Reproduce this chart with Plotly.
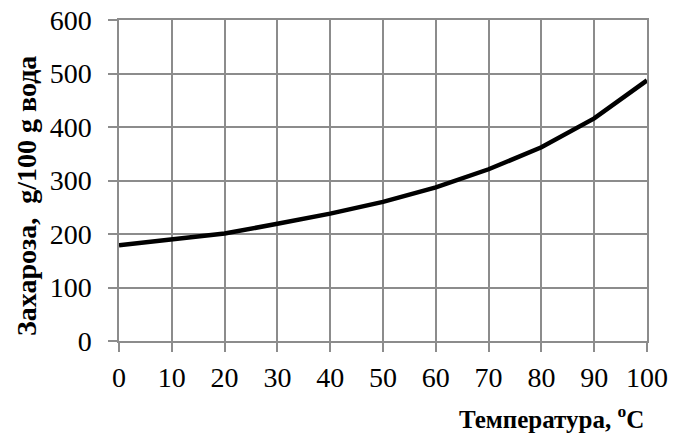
import plotly.graph_objects as go

temperature = [0, 10, 20, 30, 40, 50, 60, 70, 80, 90, 100]
sucrose = [179, 190, 201, 219, 238, 260, 287, 321, 362, 416, 487]
x_ticks = [0, 10, 20, 30, 40, 50, 60, 70, 80, 90, 100]
y_ticks = [0, 100, 200, 300, 400, 500, 600]
x_title = "Температура, <sup>o</sup>C"
y_title = "Захароза,&nbsp; g/100 g вода"

font_family = "Liberation Serif"
grid_color = "#8c8c8c"

L, R, T, B = 119, 647, 20, 341
W, H = 682, 441

fig = go.Figure()
fig.add_trace(go.Scatter(
    x=temperature, y=sucrose, mode="lines",
    line=dict(color="black", width=4.5),
    showlegend=False, hoverinfo="skip",
))

axis_common = dict(
    showgrid=True, gridcolor=grid_color, gridwidth=1.5,
    ticks="outside", ticklen=9, tickcolor=grid_color, tickwidth=1.5,
    showline=True, linecolor=grid_color, linewidth=1.5, mirror=True,
    zeroline=False,
    tickfont=dict(family=font_family, size=28, color="black"),
)

fig.update_layout(
    width=W, height=H,
    margin=dict(l=L, r=W - R, t=T, b=H - B, autoexpand=False),
    paper_bgcolor="white", plot_bgcolor="white",
    font=dict(family=font_family, size=28, color="black"),
    xaxis=dict(range=[0, 100], tickvals=x_ticks,
               ticktext=[str(v) for v in x_ticks],
               ticklabelstandoff=2, **axis_common),
    yaxis=dict(range=[0, 600], tickvals=y_ticks,
               ticktext=[str(v) for v in y_ticks],
               ticklabelstandoff=11, **axis_common),
    annotations=[
        dict(text="<b>" + x_title + "</b>", xref="paper", yref="paper",
             x=(646 - L) / (R - L), y=-(417 - B) / (B - T),
             xanchor="right", yanchor="middle", showarrow=False,
             font=dict(family=font_family, size=25, color="black")),
        dict(text="<b>" + y_title + "</b>", xref="paper", yref="paper",
             x=-(L - 26) / (R - L), y=(B - 196) / (B - T), textangle=-90,
             xanchor="center", yanchor="middle", showarrow=False,
             font=dict(family=font_family, size=28, color="black")),
    ],
)

fig.write_html(
    "out.html",
    config={"displayModeBar": False},
    post_script="document.body.style.margin='0';document.body.style.overflow='hidden';",
)
